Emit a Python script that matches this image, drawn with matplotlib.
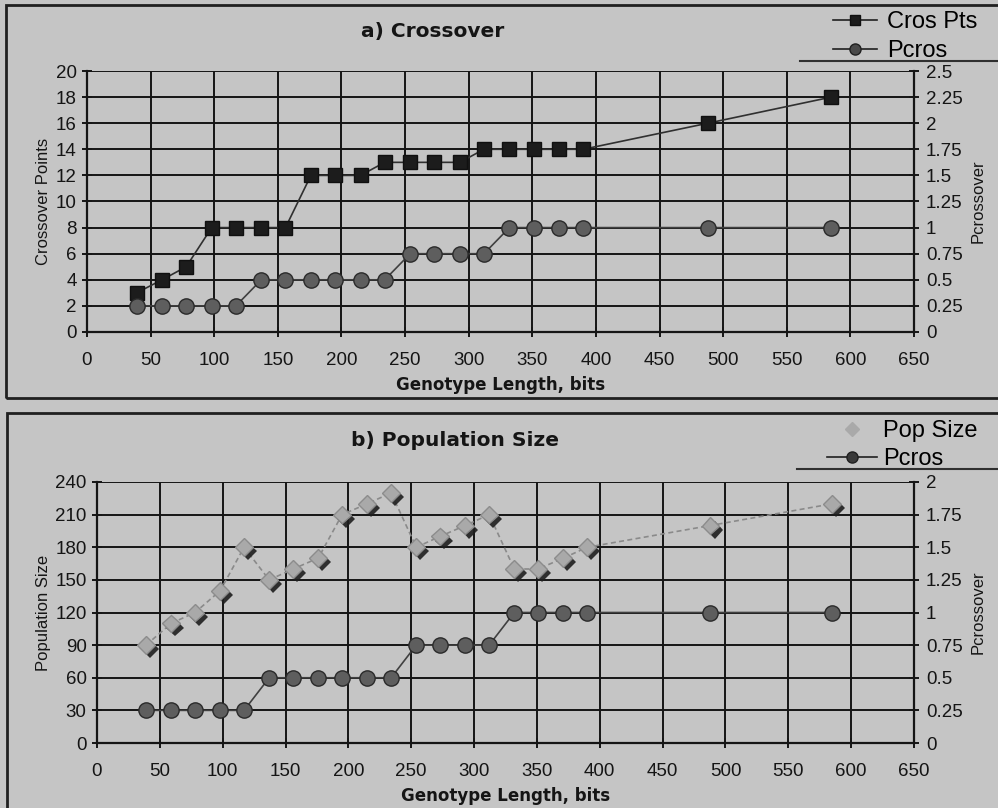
import matplotlib
matplotlib.use("Agg")
import numpy as np
from matplotlib import pyplot as plt
from matplotlib import patheffects as pe
from matplotlib.lines import Line2D
from matplotlib.patches import Rectangle

plt.rcParams['font.family'] = ['Liberation Sans', 'DejaVu Sans']

# data
genotype_len = [39, 59, 78, 98, 117, 137, 156, 176, 195, 215, 234,
                254, 273, 293, 312, 332, 351, 371, 390, 488, 585]
cros_pts = [3, 4, 5, 8, 8, 8, 8, 12, 12, 12, 13,
            13, 13, 13, 14, 14, 14, 14, 14, 16, 18]
pcros = [0.25, 0.25, 0.25, 0.25, 0.25, 0.5, 0.5, 0.5, 0.5, 0.5, 0.5,
         0.75, 0.75, 0.75, 0.75, 1, 1, 1, 1, 1, 1]
pop_size = [90, 110, 120, 140, 180, 150, 160, 170, 210, 220, 230,
            180, 190, 200, 210, 160, 160, 170, 180, 200, 220]

x_ticks = np.arange(0, 651, 50)
bg = '#c5c5c5'
ink = '#151515'
bold_font = ['DejaVu Sans']

fig = plt.figure(figsize=(9.98, 8.08), dpi=100, facecolor=bg)

# panel frames (scanned page boxes)
fig.patches.append(Rectangle((6 / 998, 1 - 398 / 808), 1.2, 393 / 808,
                             transform=fig.transFigure, fill=False,
                             edgecolor='#202020', linewidth=2))
fig.patches.append(Rectangle((7 / 998, -0.1), 1.2, 1 - 413 / 808 + 0.1,
                             transform=fig.transFigure, fill=False,
                             edgecolor='#202020', linewidth=2))
# legend underlines
fig.add_artist(Line2D([800 / 998, 1], [1 - 61 / 808] * 2, color='#303030', lw=1.5))
fig.add_artist(Line2D([797 / 998, 1], [1 - 469 / 808] * 2, color='#303030', lw=1.5))


def style_axes(ax, ax2, ylim, yticks, ylim2, yticks2, ylabel):
    ax.set_facecolor(bg)
    ax.set_xlim(0, 650)
    ax.set_xticks(x_ticks)
    ax.set_ylim(*ylim)
    ax.set_yticks(yticks)
    ax.grid(True, color=ink, linewidth=1.4)
    ax.set_axisbelow(True)
    for s in ['top', 'right']:
        ax.spines[s].set_visible(False)
    for s in ['left', 'bottom']:
        ax.spines[s].set_color(ink)
        ax.spines[s].set_linewidth(1.6)
    ax.tick_params(axis='both', direction='inout', length=7, width=1.4,
                   colors=ink, labelsize=13.5, pad=4)
    ax.tick_params(axis='x', pad=11)
    ax.set_ylabel(ylabel, fontsize=12, color=ink, labelpad=3)
    ax.set_xlabel('Genotype Length, bits', fontsize=12, fontweight='bold',
                  family=bold_font, color=ink, labelpad=5)

    ax2.set_ylim(*ylim2)
    ax2.set_yticks(yticks2)
    ax2.set_yticklabels([f'{v:g}' for v in yticks2])
    for s in ['top', 'left', 'bottom']:
        ax2.spines[s].set_visible(False)
    ax2.spines['right'].set_color(ink)
    ax2.spines['right'].set_linewidth(1.6)
    ax2.tick_params(axis='y', direction='inout', length=7, width=1.4,
                    colors=ink, labelsize=13.5, pad=5)
    ax2.set_ylabel('Pcrossover', fontsize=12, color=ink, rotation=90, labelpad=6)


# ---- a) Crossover ----
ax_a = fig.add_axes([87 / 998, 1 - 332 / 808, 827 / 998, 261 / 808])
ax_a2 = ax_a.twinx()
style_axes(ax_a, ax_a2, (0, 20), np.arange(0, 21, 2),
           (0, 2.5), np.arange(0, 2.51, 0.25), 'Crossover Points')

ax_a.plot(genotype_len, cros_pts, '-', color='#303030', lw=1.2,
          marker='s', markersize=10, markerfacecolor='#1c1c1c',
          markeredgecolor='#101010', zorder=5)
ax_a2.plot(genotype_len, pcros, '-', color='#404040', lw=1.2,
           marker='o', markersize=11, markerfacecolor='#5e5e5e',
           markeredgecolor='#2a2a2a', zorder=5)

fig.text(433 / 998, 1 - 31 / 808, 'a) Crossover', ha='center', va='center',
         fontsize=14.5, fontweight='bold', family=bold_font, color=ink)
leg_a = [Line2D([], [], color='#202020', lw=1.2, marker='s', markersize=7,
                markerfacecolor='#1c1c1c', markeredgecolor='#101010'),
         Line2D([], [], color='#202020', lw=1.2, marker='o', markersize=8,
                markerfacecolor='#4a4a4a', markeredgecolor='#202020')]
fig.legend(handles=leg_a, labels=['Cros Pts', 'Pcros'], loc='upper left',
           bbox_to_anchor=(833 / 998, 1 - 11 / 808), frameon=False,
           fontsize=17, handlelength=1.86, handletextpad=0.42,
           labelspacing=0.3, borderpad=0, borderaxespad=0)

# ---- b) Population Size ----
ax_b = fig.add_axes([97 / 998, 1 - 743 / 808, 817 / 998, 261 / 808])
ax_b2 = ax_b.twinx()
style_axes(ax_b, ax_b2, (0, 240), np.arange(0, 241, 30),
           (0, 2), np.arange(0, 2.01, 0.25), 'Population Size')

ax_b.plot(genotype_len, pop_size, '--', color='#8a8a8a', lw=1.2,
          dashes=(3, 2), zorder=4)
ax_b.plot(genotype_len, pop_size, linestyle='none', marker='D',
          markersize=9, markerfacecolor='#a9a9a9',
          markeredgecolor='#8c8c8c', zorder=5,
          path_effects=[pe.SimplePatchShadow(offset=(3, -3),
                                             shadow_rgbFace='#1e1e1e',
                                             alpha=0.9),
                        pe.Normal()])
ax_b2.plot(genotype_len, pcros, '-', color='#404040', lw=1.2,
           marker='o', markersize=11, markerfacecolor='#5e5e5e',
           markeredgecolor='#2a2a2a', zorder=5)

fig.text(455 / 998, 1 - 440 / 808, 'b) Population Size', ha='center',
         va='center', fontsize=14.5, fontweight='bold', family=bold_font,
         color=ink)
leg_b = [Line2D([], [], linestyle='none', marker='D', markersize=7,
                markerfacecolor='#a9a9a9', markeredgecolor='#a9a9a9'),
         Line2D([], [], color='#202020', lw=1.2, marker='o', markersize=8,
                markerfacecolor='#3a3a3a', markeredgecolor='#202020')]
fig.legend(handles=leg_b, labels=['Pop Size', 'Pcros'], loc='upper left',
           bbox_to_anchor=(827 / 998, 1 - 420 / 808), frameon=False,
           fontsize=17, handlelength=2.12, handletextpad=0.25,
           labelspacing=0.25, borderpad=0, borderaxespad=0)

fig.savefig('out.png', dpi=100, facecolor=bg)
